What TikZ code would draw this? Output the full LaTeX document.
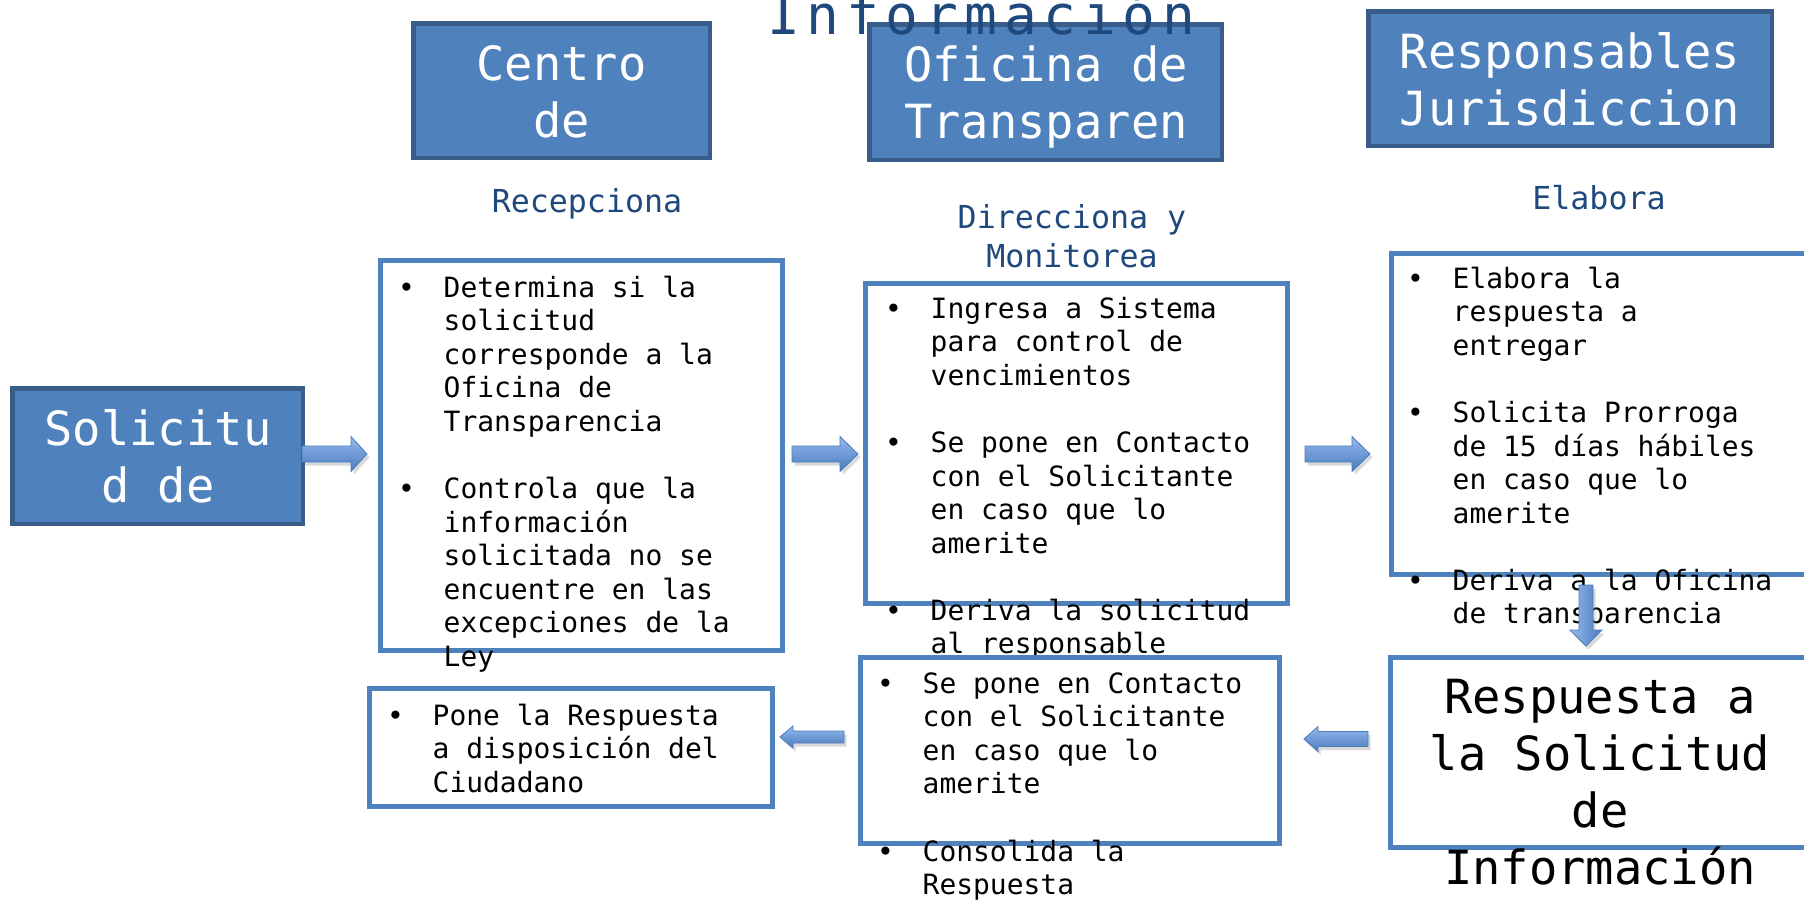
\documentclass[tikz,border=0pt]{standalone}
\usepackage{fontspec}
\setmainfont{DejaVu Sans Mono}
\usetikzlibrary{shadows}
\newlength{\upx}\setlength{\upx}{0.1mm}
\definecolor{hdrfill}{HTML}{4F81BD}
\definecolor{hdrline}{HTML}{385D8A}
\definecolor{boxline}{HTML}{4F81BD}
\definecolor{ttl}{HTML}{1F497D}
\definecolor{arrlight}{HTML}{95B9EE}
\definecolor{arrdark}{HTML}{4A7BBE}
\definecolor{arrline}{HTML}{4A7EBB}
\newcommand{\bl}{\makebox[48\upx][l]{\hspace*{2.4\upx}•}}
\newcommand{\ind}{\hspace*{48\upx}}
\newcommand{\tl}[1]{\makebox[39.5\upx]{#1}}
\tikzset{
  hdr/.style={draw=hdrline, fill=hdrfill, line width=4.5\upx, inner sep=0pt},
  wbox/.style={draw=boxline, fill=white, line width=5\upx, inner sep=0pt},
  hdrtext/.style={text=white, inner sep=0pt, anchor=base, font=\fontsize{13.4}{16.5}\selectfont},
  subtext/.style={text=ttl, inner sep=0pt, anchor=base, font=\fontsize{9}{11.1}\selectfont},
  bodytext/.style={text=black, inner sep=0pt, anchor=base west, font=\fontsize{7.95}{9.56}\selectfont},
  bigtext/.style={text=black, inner sep=0pt, anchor=base, font=\fontsize{13.4}{16.3}\selectfont},
  barrow/.style={draw=arrline, line width=0.8\upx, top color=arrlight, bottom color=arrdark,
    drop shadow={opacity=0.3, shadow xshift=0.25mm, shadow yshift=-0.35mm}},
  varrow/.style={draw=arrline, line width=0.8\upx, left color=arrlight, right color=arrdark,
    drop shadow={opacity=0.3, shadow xshift=0.25mm, shadow yshift=-0.35mm}},
}
\begin{document}
\begin{tikzpicture}[x=0.1mm, y=-0.1mm]
\useasboundingbox (0,0) rectangle (1804,902);
\clip (0,0) rectangle (1804,902);

% header boxes
\node[hdr, minimum width=296.5\upx, minimum height=134.5\upx] (centro) at (561.5,90.5) {};
\node[hdr, minimum width=352.5\upx, minimum height=135.5\upx] (oficina) at (1045.5,92) {};
\node[hdr, minimum width=403.5\upx, minimum height=134.5\upx] (resp) at (1570,78.5) {};
\node[hdr, minimum width=290.5\upx, minimum height=135.5\upx] (solic) at (157.5,456) {};

\node[hdrtext] (centrot) at (561.5,80) {\begin{tabular}[t]{@{}c@{}}Centro\\de\end{tabular}};
\node[hdrtext] (oficinat) at (1046,81) {\begin{tabular}[t]{@{}c@{}}Oficina de\\Transparen\end{tabular}};
\node[hdrtext] (respt) at (1570,68) {\begin{tabular}[t]{@{}c@{}}Responsables\\Jurisdiccion\end{tabular}};
\node[hdrtext] (solict) at (158,445) {\begin{tabular}[t]{@{}c@{}}Solicitu\\d de\end{tabular}};

% title (drawn over the header box)
\node[text=ttl, inner sep=0pt, anchor=base west, font=\fontsize{15.5}{18}\selectfont] (title) at (763,34)
  {\tl{I}\tl{n}\tl{f}\tl{o}\tl{r}\tl{m}\tl{a}\tl{c}\tl{i}\tl{ó}\tl{n}};

% sub titles
\node[subtext] (rec) at (587,212) {Recepciona};
\node[subtext] (dir) at (1072,228) {\begin{tabular}[t]{@{}c@{}}Direcciona y\\Monitorea\end{tabular}};
\node[subtext] (ela) at (1599,209) {Elabora};

% box A
\node[wbox, minimum width=402\upx, minimum height=390\upx] (boxA) at (581.5,455.5) {};
\node[bodytext] (boxAt) at (395,297) {\begin{tabular}[t]{@{}l@{}}
\bl Determina si la\\
\ind solicitud\\
\ind corresponde a la\\
\ind Oficina de\\
\ind Transparencia\\
\\
\bl Controla que la\\
\ind información\\
\ind solicitada no se\\
\ind encuentre en las\\
\ind excepciones de la\\
\ind Ley
\end{tabular}};

% box B
\node[wbox, minimum width=422\upx, minimum height=320\upx] (boxB) at (1076.5,443.5) {};
\node[bodytext] (boxBt) at (882,318) {\begin{tabular}[t]{@{}l@{}}
\bl Ingresa a Sistema\\
\ind para control de\\
\ind vencimientos\\
\\
\bl Se pone en Contacto\\
\ind con el Solicitante\\
\ind en caso que lo\\
\ind amerite\\
\\
\bl Deriva la solicitud\\
\ind al responsable
\end{tabular}};

% box C
\node[wbox, minimum width=436\upx, minimum height=321\upx] (boxC) at (1609.5,414) {};
\node[bodytext] (boxCt) at (1404,288) {\begin{tabular}[t]{@{}l@{}}
\bl Elabora la\\
\ind respuesta a\\
\ind entregar\\
\\
\bl Solicita Prorroga\\
\ind de 15 días hábiles\\
\ind en caso que lo\\
\ind amerite\\
\\
\bl Deriva a la Oficina\\
\ind de transparencia
\end{tabular}};

% box D
\node[wbox, minimum width=403\upx, minimum height=118\upx] (boxD) at (571,747.5) {};
\node[bodytext] (boxDt) at (384,725) {\begin{tabular}[t]{@{}l@{}}
\bl Pone la Respuesta\\
\ind a disposición del\\
\ind Ciudadano
\end{tabular}};

% box E
\node[wbox, minimum width=419\upx, minimum height=186\upx] (boxE) at (1070,750.5) {};
\node[bodytext] (boxEt) at (874,693) {\begin{tabular}[t]{@{}l@{}}
\bl Se pone en Contacto\\
\ind con el Solicitante\\
\ind en caso que lo\\
\ind amerite\\
\\
\bl Consolida la\\
\ind Respuesta
\end{tabular}};

% box F
\node[wbox, minimum width=440\upx, minimum height=190\upx] (boxF) at (1610.5,752.5) {};
\node[bigtext] (boxFt) at (1600,713) {\begin{tabular}[t]{@{}c@{}}Respuesta a\\la Solicitud\\de\\Información\end{tabular}};

% block arrows
\path[barrow] (302,446) -- (351,446) -- (351,436.5) -- (367,454) -- (351,471.5) -- (351,462) -- (302,462) -- cycle;
\path[barrow] (792,446) -- (840,446) -- (840,436.5) -- (858,454) -- (840,471.5) -- (840,462) -- (792,462) -- cycle;
\path[barrow] (1305,446) -- (1352,446) -- (1352,436.5) -- (1370,454) -- (1352,471.5) -- (1352,462) -- (1305,462) -- cycle;
\path[barrow] (1368,731.5) -- (1318,731.5) -- (1318,726.5) -- (1304,739) -- (1318,751.5) -- (1318,746.5) -- (1368,746.5) -- cycle;
\path[barrow] (844,731) -- (793,731) -- (793,726) -- (780,737) -- (793,748) -- (793,743) -- (844,743) -- cycle;
\path[varrow] (1579,585) -- (1593,585) -- (1593,630) -- (1602,630) -- (1586,646) -- (1570,630) -- (1579,630) -- cycle;
\end{tikzpicture}
\end{document}
